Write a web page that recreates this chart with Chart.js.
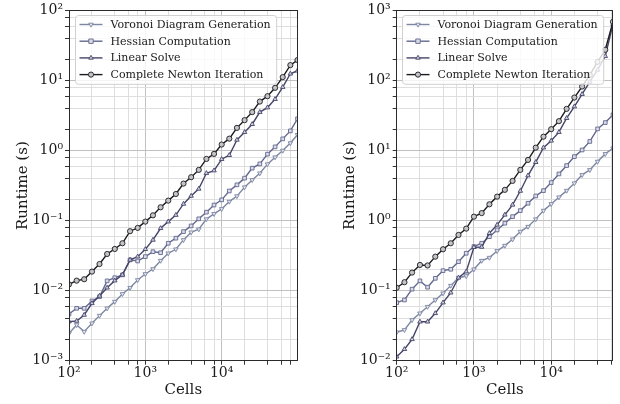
<!DOCTYPE html>
<html>
<head>
<meta charset="utf-8">
<script src="https://cdn.jsdelivr.net/npm/chart.js@4/dist/chart.umd.min.js"></script>
<style>
  html, body { margin: 0; padding: 0; background: #ffffff; }
  #wrap { position: relative; width: 620px; height: 404px; }
  canvas { position: absolute; top: 0; }
</style>
</head>
<body>
<div id="wrap">
  <canvas id="leftPanel" width="310" height="404" style="left:0px"></canvas>
  <canvas id="rightPanel" width="310" height="404" style="left:310px"></canvas>
</div>
<script>
// Mesh sizes (number of cells)
const cellsLeft = [100, 126, 158, 200, 251, 316, 398, 501, 631, 794,
  1000, 1259, 1585, 1995, 2512, 3162, 3981, 5012, 6310, 7943,
  10000, 12589, 15849, 19953, 25119, 31623, 39811, 50119, 63096, 79433, 98500];
const cellsRight = [100, 126, 158, 200, 251, 316, 398, 501, 631, 794,
  1000, 1259, 1585, 1995, 2512, 3162, 3981, 5012, 6310, 7943,
  10000, 12589, 15849, 19953, 25119, 31623, 39811, 50119, 63096];

const seriesNames = ['Voronoi Diagram Generation', 'Hessian Computation', 'Linear Solve', 'Complete Newton Iteration'];

// Runtimes (s), left study
const leftVoronoi = [0.00246, 0.00324, 0.0026, 0.00342, 0.0044, 0.0056, 0.00697, 0.00897, 0.0110, 0.0142,
  0.0173, 0.0204, 0.0268, 0.0342, 0.039, 0.053, 0.0682, 0.0753, 0.105, 0.125,
  0.147, 0.187, 0.224, 0.30, 0.381, 0.475, 0.64, 0.805, 1.0, 1.28, 1.68];
const leftHessian = [0.00464, 0.0056, 0.0056, 0.00713, 0.0082, 0.0138, 0.0153, 0.0168, 0.0275, 0.0265,
  0.0306, 0.036, 0.0348, 0.0475, 0.0561, 0.0697, 0.084, 0.106, 0.132, 0.167,
  0.198, 0.265, 0.324, 0.404, 0.561, 0.646, 0.889, 1.13, 1.47, 1.91, 2.84];
const leftLinear = [0.00361, 0.00369, 0.0045, 0.0066, 0.0084, 0.0110, 0.0139, 0.0168, 0.0275, 0.0306,
  0.039, 0.053, 0.0778, 0.0968, 0.120, 0.173, 0.225, 0.284, 0.475, 0.518,
  0.753, 0.859, 1.42, 1.83, 2.38, 3.54, 4.11, 5.42, 8.05, 12.5, 13.8];
const leftNewton = [0.0123, 0.0139, 0.01455, 0.0187, 0.024, 0.0334, 0.0394, 0.0475, 0.0706, 0.0787,
  0.0968, 0.119, 0.155, 0.193, 0.240, 0.338, 0.417, 0.530, 0.760, 0.897,
  1.22, 1.48, 2.11, 2.72, 3.54, 5.01, 5.98, 7.87, 11.2, 16.6, 19.6];

// Runtimes (s), right study
const rightVoronoi = [0.0255, 0.0275, 0.0381, 0.0475, 0.059, 0.0736, 0.0918, 0.118, 0.153, 0.162,
  0.202, 0.268, 0.296, 0.369, 0.44, 0.542, 0.697, 0.82, 1.05, 1.39,
  1.73, 2.16, 2.68, 3.42, 4.50, 5.30, 6.97, 8.97, 10.8];
const rightHessian = [0.0675, 0.0736, 0.105, 0.138, 0.112, 0.150, 0.193, 0.202, 0.259, 0.342,
  0.426, 0.475, 0.59, 0.736, 0.918, 1.14, 1.39, 1.77, 2.25, 2.68,
  3.49, 4.64, 6.11, 8.20, 10.2, 13.5, 20.4, 25.1, 32.4];
const rightLinear = [0.0114, 0.0146, 0.0202, 0.036, 0.036, 0.0475, 0.0675, 0.0935, 0.153, 0.187,
  0.417, 0.42, 0.661, 0.869, 1.21, 1.68, 2.65, 4.40, 6.83, 11.0,
  13.8, 18.3, 29.0, 42.5, 63.9, 95.8, 142, 223, 640];
const rightNewton = [0.110, 0.132, 0.181, 0.233, 0.229, 0.306, 0.39, 0.475, 0.625, 0.769,
  1.14, 1.28, 1.71, 2.20, 2.75, 3.69, 5.30, 7.36, 11.0, 15.8,
  20.2, 26.3, 39.4, 57.2, 82.1, 120, 185, 275, 690];

// Axis decades and their labels
const xMajors = [100, 1000, 10000];
const xLabels = ['10\u00B2', '10\u00B3', '10\u2074'];
const leftYMajors = [1e-3, 1e-2, 1e-1, 1, 10, 100];
const leftYLabels = ['10\u207B\u00B3', '10\u207B\u00B2', '10\u207B\u00B9', '10\u2070', '10\u00B9', '10\u00B2'];
const rightYMajors = [1e-2, 1e-1, 1, 10, 100, 1000];
const rightYLabels = ['10\u207B\u00B2', '10\u207B\u00B9', '10\u2070', '10\u00B9', '10\u00B2', '10\u00B3'];
const minorSubs = [2, 4, 6, 8];

const lineColors = ['#7d86a2', '#63688e', '#45456a', '#1c1c20'];
const faceColors = ['#e2e5ee', '#d9dbe7', '#cfd0de', '#c4c4c8'];
const markers = [
  { style: 'triangle', rot: 180 },
  { style: 'rect', rot: 0 },
  { style: 'triangle', rot: 0 },
  { style: 'circle', rot: 0 }
];

const SERIF = "'DejaVu Serif', 'Liberation Serif', serif";

function makeDatasets(cells, series) {
  return series.map((vals, i) => ({
    label: seriesNames[i],
    data: vals.map((v, j) => ({ x: cells[j], y: v })),
    borderColor: lineColors[i],
    backgroundColor: faceColors[i],
    borderWidth: 1.4,
    pointStyle: markers[i].style,
    pointRotation: markers[i].rot,
    pointRadius: 2.6,
    pointBorderWidth: 0.9,
    pointBorderColor: lineColors[i],
    pointBackgroundColor: faceColors[i],
    tension: 0,
    order: series.length - 1 - i
  }));
}

function logAxis(min, max, majors, labels, opts) {
  return {
    type: 'logarithmic',
    position: opts.position,
    min: min,
    max: max,
    afterBuildTicks(scale) {
      const t = [];
      majors.forEach(v => {
        if (v >= min * 0.999 && v <= max * 1.001) t.push({ value: v, major: true });
        minorSubs.forEach(m => {
          const mv = m * v;
          if (mv > min && mv < max) t.push({ value: mv, major: false });
        });
      });
      t.sort((a, b) => a.value - b.value);
      scale.ticks = t;
    },
    afterFit(scale) {
      if (opts.position === 'left') scale.width = opts.size;
      else scale.height = opts.size;
    },
    ticks: {
      autoSkip: false,
      maxRotation: 0,
      minRotation: 0,
      padding: opts.tickPad,
      color: '#1a1a1a',
      font: { family: SERIF, size: 14 },
      callback(value) {
        const i = majors.indexOf(value);
        return i >= 0 ? labels[i] : '';
      }
    },
    grid: {
      color: ctx => (ctx.tick && ctx.tick.major) ? '#c0c0c0' : '#dedede',
      lineWidth: 1,
      tickColor: '#333333',
      tickLength: 4,
      drawTicks: true
    },
    border: { display: false },
    title: {
      display: true,
      text: opts.title,
      color: '#1a1a1a',
      font: { family: SERIF, size: 15 },
      padding: opts.titlePad
    }
  };
}

// Crisp frame around the plotting area
const frame = {
  id: 'frame',
  afterDraw(chart) {
    const { ctx, chartArea: a } = chart;
    const x0 = Math.floor(a.left) + 0.5, x1 = Math.ceil(a.right) - 0.5;
    const y0 = Math.floor(a.top) + 0.5, y1 = Math.floor(a.bottom) + 0.5;
    ctx.save();
    ctx.strokeStyle = '#2a2a2a';
    ctx.lineWidth = 1;
    ctx.strokeRect(x0, y0, x1 - x0, y1 - y0);
    ctx.restore();
  }
};

function drawMarker(ctx, kind, x, y, r) {
  ctx.beginPath();
  if (kind.style === 'circle') {
    ctx.arc(x, y, r, 0, Math.PI * 2);
  } else if (kind.style === 'rect') {
    ctx.rect(x - r * 0.85, y - r * 0.85, r * 1.7, r * 1.7);
  } else {
    const s = kind.rot === 180 ? -1 : 1;
    ctx.moveTo(x, y - s * r);
    ctx.lineTo(x + r * 0.87, y + s * r * 0.5);
    ctx.lineTo(x - r * 0.87, y + s * r * 0.5);
    ctx.closePath();
  }
  ctx.fill();
  ctx.stroke();
}

// Legend box in the upper-left corner of the plotting area
const innerLegend = {
  id: 'innerLegend',
  afterDatasetsDraw(chart) {
    const { ctx, chartArea: a } = chart;
    const sets = chart.data.datasets;
    ctx.save();
    ctx.font = '11px ' + SERIF;
    const textW = Math.max(...sets.map(d => ctx.measureText(d.label).width));
    const bx = Math.floor(a.left) + 6.5, by = Math.floor(a.top) + 5.5;
    const bw = 36 + textW + 5, rowH = 16.7, bh = rowH * sets.length + 2;
    const r = 3;
    ctx.beginPath();
    ctx.moveTo(bx + r, by);
    ctx.arcTo(bx + bw, by, bx + bw, by + bh, r);
    ctx.arcTo(bx + bw, by + bh, bx, by + bh, r);
    ctx.arcTo(bx, by + bh, bx, by, r);
    ctx.arcTo(bx, by, bx + bw, by, r);
    ctx.closePath();
    ctx.fillStyle = 'rgba(255,255,255,0.8)';
    ctx.fill();
    ctx.strokeStyle = '#d0d0d0';
    ctx.lineWidth = 1;
    ctx.stroke();
    sets.forEach((d, i) => {
      const cy = by + 9 + i * rowH;
      ctx.strokeStyle = lineColors[i];
      ctx.lineWidth = 1.4;
      ctx.beginPath();
      ctx.moveTo(bx + 4, cy);
      ctx.lineTo(bx + 27, cy);
      ctx.stroke();
      ctx.fillStyle = faceColors[i];
      ctx.lineWidth = 0.9;
      drawMarker(ctx, markers[i], bx + 15.5, cy, 2.6);
      ctx.fillStyle = '#1a1a1a';
      ctx.textBaseline = 'middle';
      ctx.textAlign = 'left';
      ctx.fillText(d.label, bx + 35, cy + 0.5);
    });
    ctx.restore();
  }
};

function makeChart(id, cells, series, xMax, yMin, yMax, yMajors, yLabels, yAxisWidth, yTitlePad, rightPad) {
  return new Chart(document.getElementById(id), {
    type: 'line',
    data: { datasets: makeDatasets(cells, series) },
    options: {
      responsive: false,
      animation: false,
      devicePixelRatio: 1,
      layout: { padding: { top: 10.5, right: rightPad, left: 0, bottom: 0 } },
      plugins: { legend: { display: false }, tooltip: { enabled: false } },
      scales: {
        x: logAxis(100, xMax, xMajors, xLabels, {
          position: 'bottom', size: 43.3, tickPad: 0, title: 'Cells', titlePad: { top: 0, bottom: 5 }
        }),
        y: logAxis(yMin, yMax, yMajors, yLabels, {
          position: 'left', size: yAxisWidth, tickPad: 2, title: 'Runtime (s)', titlePad: { top: yTitlePad, bottom: 0 }
        })
      }
    },
    plugins: [innerLegend, frame]
  });
}

makeChart('leftPanel', cellsLeft, [leftVoronoi, leftHessian, leftLinear, leftNewton],
  98500, 1e-3, 1e2, leftYMajors, leftYLabels, 69, 14, 12.5);
makeChart('rightPanel', cellsRight, [rightVoronoi, rightHessian, rightLinear, rightNewton],
  63096, 1e-2, 1e3, rightYMajors, rightYLabels, 86.7, 31, 7);
</script>
</body>
</html>
